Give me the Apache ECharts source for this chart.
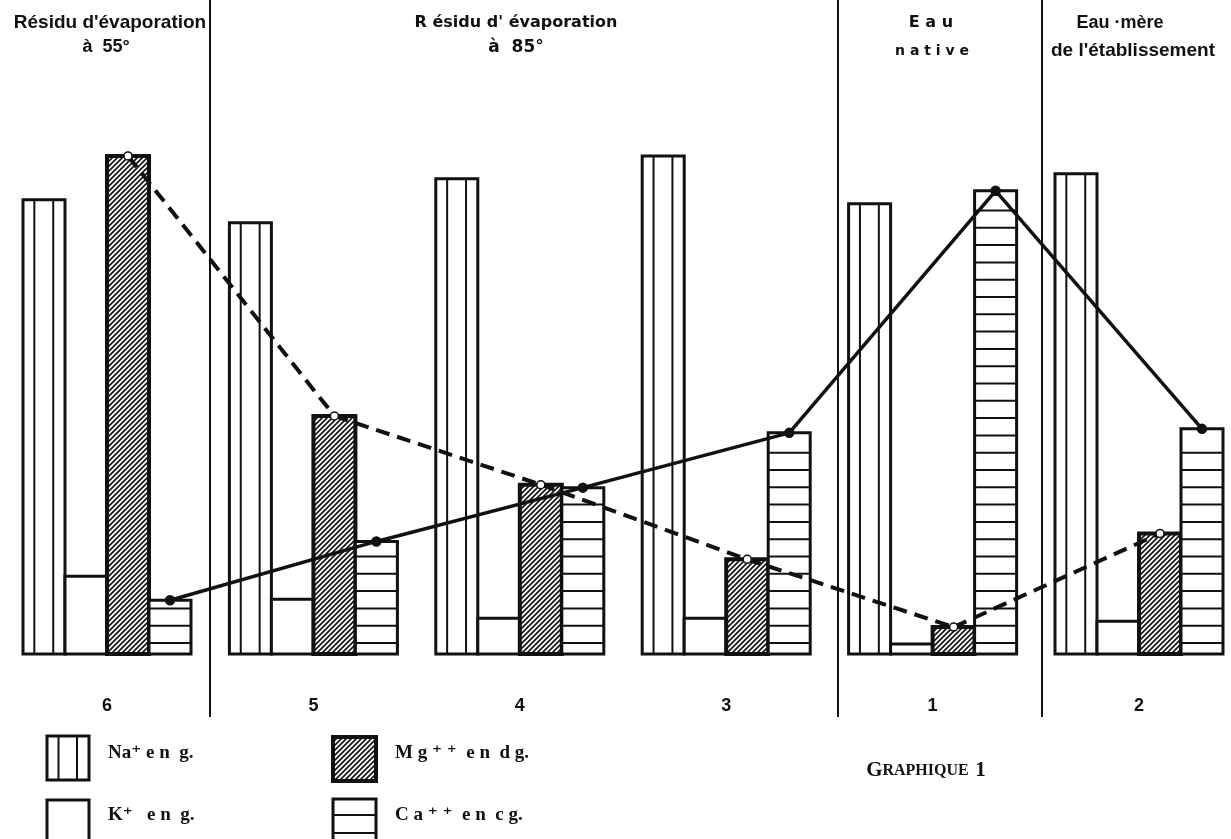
<!DOCTYPE html>
<html>
<head>
<meta charset="utf-8">
<script src="https://cdn.jsdelivr.net/npm/echarts@6/dist/echarts.min.js"></script>
<style>
  html, body { margin: 0; padding: 0; background: #fff; }
  #chart { width: 1231px; height: 839px; }
</style>
</head>
<body>
<div id="chart"></div>
<script>
// ---- data (relative bar heights) ----
const categories = ['6', '5', '4', '3', '1', '2'];
const naValues = [45.6, 43.3, 47.7, 50.0, 45.2, 48.2];   // Na+ en g.
const kValues  = [7.8, 5.5, 3.6, 3.6, 1.0, 3.3];         // K+ en g.
const mgValues = [50.0, 23.9, 17.0, 9.5, 2.7, 12.1];     // Mg++ en dg.
const caValues = [5.4, 11.3, 16.7, 22.2, 46.5, 22.6];    // Ca++ en cg.

const INK = '#111';
const BAR_FRAC = 0.2035;           // width of one bar as a fraction of the category spacing

// diagonal hatch pattern for Mg
const hatch = document.createElement('canvas');
hatch.width = 5; hatch.height = 5;
(function () {
  const c = hatch.getContext('2d');
  c.fillStyle = '#fff'; c.fillRect(0, 0, 5, 5);
  c.strokeStyle = '#1a1a1a'; c.lineWidth = 1.8;
  c.beginPath();
  c.moveTo(-1, 6); c.lineTo(6, -1);
  c.moveTo(-1, 1); c.lineTo(1, -1);
  c.moveTo(4, 6); c.lineTo(6, 4);
  c.stroke();
})();

function renderBar(kind, slot) {
  return function (params, api) {
    const i = api.value(0), v = api.value(1);
    const p0 = api.coord([i, 0]);
    const p1 = api.coord([i, v]);
    const band = api.size([1, 0])[0];
    const bw = band * BAR_FRAC;
    const x = p0[0] - 2 * bw + slot * bw;
    const y = p1[1];
    const h = p0[1] - p1[1];
    const children = [];
    const fill = kind === 'mg' ? { image: hatch, repeat: 'repeat' } : '#fff';
    children.push({
      type: 'rect',
      shape: { x: x, y: y, width: bw, height: h },
      style: { fill: fill, stroke: INK, lineWidth: kind === 'mg' ? 4 : 3 }
    });
    if (kind === 'na') {
      [0.27, 0.72].forEach(function (f) {
        children.push({
          type: 'line',
          shape: { x1: x + bw * f, y1: y, x2: x + bw * f, y2: y + h },
          style: { stroke: INK, lineWidth: 2 }
        });
      });
    }
    if (kind === 'ca') {
      for (let yy = p0[1] - 11; yy > y + 8; yy -= 17.3) {
        children.push({
          type: 'line',
          shape: { x1: x, y1: yy, x2: x + bw, y2: yy },
          style: { stroke: INK, lineWidth: 2 }
        });
      }
    }
    return { type: 'group', children: children };
  };
}

function barSeries(name, kind, slot, values) {
  return {
    type: 'custom',
    name: name,
    xAxisIndex: 0,
    yAxisIndex: 0,
    renderItem: renderBar(kind, slot),
    encode: { x: 0, y: 1 },
    data: values.map(function (v, i) { return [i, v]; }),
    clip: false,
    z: 2
  };
}

// connecting line through the top centre of a given bar slot (segment to next group + marker)
function renderLink(slot, dash, lineW, markerFill, markerR) {
  return function (params, api) {
    const i = api.value(0), v = api.value(1), vNext = api.value(2);
    const band = api.size([1, 0])[0];
    const off = (slot - 1.5) * band * BAR_FRAC;
    const p = api.coord([i, v]);
    const children = [];
    if (!isNaN(vNext)) {
      const q = api.coord([i + 1, vNext]);
      children.push({
        type: 'line',
        shape: { x1: p[0] + off, y1: p[1], x2: q[0] + off, y2: q[1] },
        style: { stroke: INK, lineWidth: lineW, lineDash: dash, lineCap: 'butt' }
      });
    }
    children.push({
      type: 'circle',
      shape: { cx: p[0] + off, cy: p[1], r: markerR },
      style: { fill: markerFill, stroke: INK, lineWidth: 1.5 }
    });
    return { type: 'group', children: children };
  };
}

function linkSeries(name, slot, values, dash, lineW, markerFill, markerR) {
  return {
    type: 'custom',
    name: name,
    xAxisIndex: 0,
    yAxisIndex: 0,
    renderItem: renderLink(slot, dash, lineW, markerFill, markerR),
    encode: { x: 0, y: 1 },
    data: values.map(function (v, i) {
      return [i, v, i + 1 < values.length ? values[i + 1] : NaN];
    }),
    clip: false,
    z: 5
  };
}

const chart = echarts.init(document.getElementById('chart'));

const sans = '"Liberation Sans", Arial, sans-serif';
const serif = '"Liberation Serif", "DejaVu Serif", serif';

function txt(x, y, text, opts) {
  return {
    type: 'text', x: x, y: y,
    style: Object.assign({
      text: text, fill: INK, align: 'center', verticalAlign: 'middle',
      font: 'bold 17px ' + sans
    }, opts || {})
  };
}
function vline(x, y1, y2, w) {
  return { type: 'line', shape: { x1: x, y1: y1, x2: x, y2: y2 }, style: { stroke: INK, lineWidth: w || 2 } };
}

const legendGraphics = [
  // Na box
  { type: 'rect', shape: { x: 47, y: 736, width: 42, height: 44 }, style: { fill: '#fff', stroke: INK, lineWidth: 3 } },
  { type: 'line', shape: { x1: 58.5, y1: 736, x2: 58.5, y2: 780 }, style: { stroke: INK, lineWidth: 2 } },
  { type: 'line', shape: { x1: 77, y1: 736, x2: 77, y2: 780 }, style: { stroke: INK, lineWidth: 2 } },
  // K box
  { type: 'rect', shape: { x: 47, y: 800, width: 42, height: 44 }, style: { fill: '#fff', stroke: INK, lineWidth: 3 } },
  // Mg box
  { type: 'rect', shape: { x: 333, y: 737, width: 43, height: 44 }, style: { fill: { image: hatch, repeat: 'repeat' }, stroke: INK, lineWidth: 4 } },
  // Ca box
  { type: 'rect', shape: { x: 333, y: 799, width: 43, height: 44 }, style: { fill: '#fff', stroke: INK, lineWidth: 3 } },
  { type: 'line', shape: { x1: 333, y1: 815, x2: 376, y2: 815 }, style: { stroke: INK, lineWidth: 2 } },
  { type: 'line', shape: { x1: 333, y1: 833, x2: 376, y2: 833 }, style: { stroke: INK, lineWidth: 2 } },
  txt(108, 753, 'Na⁺ e n  g.', { align: 'left', font: 'bold 19px ' + serif }),
  txt(108, 815, 'K⁺   e n  g.', { align: 'left', font: 'bold 19px ' + serif }),
  txt(395, 753, 'M g ⁺ ⁺  e n  d g.', { align: 'left', font: 'bold 19px ' + serif }),
  txt(395, 815, 'C a ⁺ ⁺  e n  c g.', { align: 'left', font: 'bold 19px ' + serif }),
  {
    type: 'text', x: 926, y: 771,
    style: {
      text: '{a|G}{b|RAPHIQUE}  {a|1}',
      align: 'center', verticalAlign: 'middle',
      rich: {
        a: { fontSize: 21, fontWeight: 'bold', fontFamily: serif, fill: INK, color: INK },
        b: { fontSize: 16, fontWeight: 'bold', fontFamily: serif, fill: INK, color: INK }
      }
    }
  }
];

const headerGraphics = [
  txt(110, 23, 'Résidu d\'évaporation', { font: 'bold 19px ' + sans }),
  txt(106, 47, 'à  55°', { font: 'bold 18px ' + sans }),
  txt(516, 23, 'R ésidu d\' évaporation', { font: 'bold 16px "DejaVu Sans", sans-serif' }),
  txt(516, 48, 'à  85°', { font: 'bold 17px "DejaVu Sans", sans-serif' }),
  txt(931, 23, 'E a u', { font: 'bold 16px "DejaVu Sans", sans-serif' }),
  txt(932, 51, 'n a t i v e', { font: 'bold 14px "DejaVu Sans", sans-serif' }),
  txt(1120, 23, 'Eau ·mère', { font: 'bold 18px ' + sans }),
  txt(1133, 51, 'de l\'établissement', { font: 'bold 19px ' + sans }),
  vline(210, 0, 717, 2),
  vline(838, 0, 717, 2),
  vline(1042, 0, 717, 2)
];

chart.setOption({
  backgroundColor: '#fff',
  animation: false,
  grid: { left: 107, right: 92, top: 136, bottom: 185, containLabel: false },
  xAxis: {
    type: 'category',
    data: categories,
    boundaryGap: false,
    axisLine: { show: false },
    axisTick: { show: false },
    splitLine: { show: false },
    axisLabel: {
      interval: 0,
      showMinLabel: true,
      showMaxLabel: true,
      margin: 43,
      fontSize: 18,
      fontWeight: 'bold',
      fontFamily: sans,
      color: INK
    }
  },
  yAxis: {
    type: 'value', min: 0, max: 52, show: false,
    splitLine: { show: false }
  },
  graphic: headerGraphics.concat(legendGraphics),
  series: [
    barSeries('Na⁺ en g.', 'na', 0, naValues),
    barSeries('K⁺ en g.', 'k', 1, kValues),
    barSeries('Mg⁺⁺ en dg.', 'mg', 2, mgValues),
    barSeries('Ca⁺⁺ en cg.', 'ca', 3, caValues),
    linkSeries('Mg⁺⁺ (courbe)', 2, mgValues, [14, 8], 4, '#fff', 4),
    linkSeries('Ca⁺⁺ (courbe)', 3, caValues, null, 3.5, INK, 4.5)
  ]
});
</script>
</body>
</html>
